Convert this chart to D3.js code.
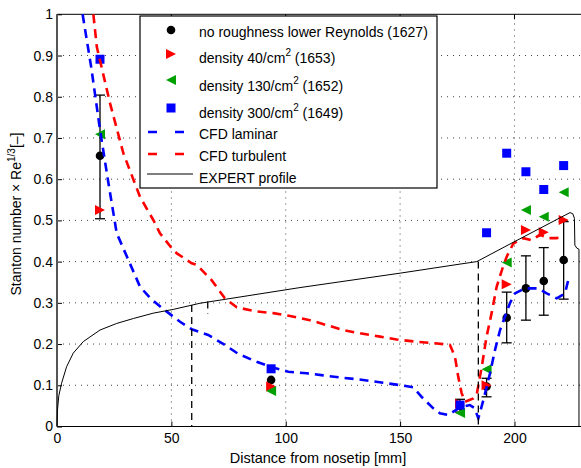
<!DOCTYPE html>
<html lang="en">
<head>
<meta charset="UTF-8">
<title>Stanton number along the nose</title>
<script src="https://d3js.org/d3.v7.min.js"></script>
<style>
  body { margin: 0; background: #fff; }
  svg { display: block; }
  svg text { font-family: "Liberation Sans", "Arimo", Arial, sans-serif; }
  .grid { stroke: #444; stroke-width: 1; stroke-dasharray: 1,5; fill: none; }
  .cfd { fill: none; stroke-width: 2.6; stroke-dasharray: 9,6; }
  .expert { fill: none; stroke: #000; stroke-width: 1; }
  .vdash { stroke: #000; stroke-width: 1.3; stroke-dasharray: 7,5; }
</style>
</head>
<body>
<svg id="chart" width="581" height="468"></svg>
<script>
// measurement stations (mm)
const xMeas = [18.8, 93.6, 176.2, 187.8, 196.6, 205, 212.8, 221.5];
const noRough = [0.657, 0.113, 0.05, 0.097, 0.264, 0.335, 0.353, 0.404];
const errLow  = [0.504, null, 0.035, 0.072, 0.203, 0.258, 0.270, 0.309];
const errHigh = [0.804, null, 0.066, 0.117, 0.326, 0.414, 0.434, 0.497];
const dens40  = [0.525, 0.097, 0.055, 0.10, 0.345, 0.477, 0.471, 0.501];
const dens130 = [0.709, 0.086, 0.033, 0.139, 0.398, 0.525, 0.509, 0.568];
const dens300 = [0.891, 0.14, 0.052, 0.47, 0.663, 0.618, 0.575, 0.633];

// CFD laminar
const lamX = [11.2, 15, 18.8, 22.5, 26.1, 31.2, 36.3, 41, 46.5, 53.8, 58.9, 66.1, 73.4, 79.3, 87.3, 93.9,
  101.1, 109.2, 116.4, 125.2, 133.9, 142.6, 149.2, 155.8, 159.4, 164.5, 167.4, 171.1, 173.3, 176.9, 180.5,
  182.5, 184.2, 186.4, 189.3, 191.5, 193.7, 198, 200.2, 204.6, 210.4, 214.1, 218.5, 222.1, 223.5];
const lamY = [1.0, 0.87, 0.72, 0.59, 0.469, 0.404, 0.339, 0.31, 0.285, 0.254, 0.236, 0.222, 0.198, 0.176, 0.157, 0.144,
  0.133, 0.129, 0.124, 0.118, 0.113, 0.106, 0.101, 0.095, 0.072, 0.044, 0.032, 0.028, 0.036, 0.048, 0.052,
  0.045, 0.02, 0.064, 0.129, 0.186, 0.234, 0.299, 0.323, 0.335, 0.335, 0.323, 0.311, 0.323, 0.355];

// CFD turbulent
const turbX = [15.9, 17.4, 23.2, 29, 36.3, 42.1, 45, 50.8, 52.4, 58.9, 61.1, 67.6, 73.4, 78.6, 87.3, 94.6,
  101.9, 110.6, 117.9, 125.2, 132.5, 141.2, 148.5, 156.5, 165.2, 171.8, 174, 175.4, 176.9, 178.4, 182,
  183.5, 185.7, 187.8, 190, 192.2, 195.1, 196.6, 199.5, 203.9, 207.5, 211.1, 214.8, 218.4, 221.3];
const turbY = [1.0, 0.921, 0.784, 0.663, 0.557, 0.501, 0.469, 0.428, 0.42, 0.396, 0.392, 0.355, 0.311, 0.289, 0.279, 0.275,
  0.268, 0.258, 0.246, 0.234, 0.226, 0.218, 0.211, 0.206, 0.202, 0.198, 0.169, 0.121, 0.081, 0.06, 0.068,
  0.078, 0.145, 0.218, 0.275, 0.339, 0.39, 0.412, 0.444, 0.457, 0.452, 0.465, 0.457, 0.457, 0.46];

// EXPERT profile
const expX = [0, 0.2, 0.8, 2, 4.2, 7.1, 11.5, 18.8, 26.1, 33.4, 42.1, 50.8, 62.5, 106.2, 150, 176.2, 183.5,
  199.5, 224.3, 225.5, 226.2, 226.4, 227.2, 228.2, 228.2];
const expY = [0, 0.04, 0.075, 0.105, 0.145, 0.178, 0.206, 0.234, 0.25, 0.262, 0.275, 0.284, 0.299, 0.337, 0.372, 0.394, 0.4,
  0.447, 0.519, 0.516, 0.505, 0.44, 0.433, 0.43, 0];

// black dashed markers of transition
const vX = [58.9, 65.9, 184.2];
const vTop = [0.295, 0.303, 0.4];
const vBot = [0, 0.273, 0];

const xTicks = [0, 50, 100, 150, 200];
const yTicks = [0, 0.1, 0.2, 0.3, 0.4, 0.5, 0.6, 0.7, 0.8, 0.9, 1];

const legendLabels = ["no roughness lower Reynolds (1627)", "density 40/cm|2| (1653)", "density 130/cm|2| (1652)",
  "density 300/cm|2| (1649)", "CFD laminar", "CFD turbulent", "EXPERT profile"];

const svg = d3.select("#chart");
const x = d3.scaleLinear().domain([0, 230]).range([57, 583.1]);
const y = d3.scaleLinear().domain([0, 1]).range([426.5, 14.3]);
const x0 = x(0), x1 = x(230), y0 = y(0), y1 = y(1);

// grid
svg.append("g").selectAll("line").data(xTicks.slice(1)).join("line")
  .attr("class", "grid").attr("x1", d => x(d)).attr("x2", d => x(d)).attr("y1", y0).attr("y2", y1);
svg.append("g").selectAll("line").data(yTicks.slice(1, -1)).join("line")
  .attr("class", "grid").attr("y1", d => y(d)).attr("y2", d => y(d)).attr("x1", x0).attr("x2", x1);

// axes
const gx = svg.append("g").attr("transform", `translate(0,${y0})`)
  .call(d3.axisBottom(x).tickValues(xTicks).tickSizeInner(-5).tickSizeOuter(0).tickPadding(7));
const gy = svg.append("g").attr("transform", `translate(${x0},0)`)
  .call(d3.axisLeft(y).tickValues(yTicks).tickFormat(d => d3.format("~g")(d)).tickSizeInner(-5).tickSizeOuter(0).tickPadding(4));
[gx, gy].forEach(g => {
  g.attr("font-family", null).attr("font-size", 14);
  g.select(".domain").remove();
  g.selectAll(".tick text").attr("fill", "#000");
  g.selectAll(".tick line").attr("stroke", "#000");
});
// top ticks
svg.append("g").selectAll("line").data(xTicks).join("line")
  .attr("x1", d => x(d)).attr("x2", d => x(d)).attr("y1", y1).attr("y2", y1 + 5).attr("stroke", "#000");

// box
svg.append("line").attr("x1", x0).attr("x2", x1).attr("y1", y0).attr("y2", y0).attr("stroke", "#000");
svg.append("line").attr("x1", x0).attr("x2", x1).attr("y1", y1).attr("y2", y1).attr("stroke", "#000");
svg.append("line").attr("x1", x0).attr("x2", x0).attr("y1", y0).attr("y2", y1).attr("stroke", "#555").attr("stroke-width", 2);

// markers
const tri = (dir) => {
  const s = 5;
  return dir > 0 ? `M${-s},${-s}L${s},0L${-s},${s}Z` : `M${s},${-s}L${-s},0L${s},${s}Z`;
};
const idx = d3.range(xMeas.length);

// error bars + black circles
const eb = svg.append("g").attr("stroke", "#000").attr("stroke-width", 1.3);
idx.filter(i => errLow[i] !== null).forEach(i => {
  const cx = x(xMeas[i]);
  eb.append("line").attr("x1", cx).attr("x2", cx).attr("y1", y(errLow[i])).attr("y2", y(errHigh[i]));
  eb.append("line").attr("x1", cx - 5).attr("x2", cx + 5).attr("y1", y(errLow[i])).attr("y2", y(errLow[i]));
  eb.append("line").attr("x1", cx - 5).attr("x2", cx + 5).attr("y1", y(errHigh[i])).attr("y2", y(errHigh[i]));
});
svg.append("g").selectAll("circle").data(idx).join("circle")
  .attr("cx", i => x(xMeas[i])).attr("cy", i => y(noRough[i])).attr("r", 4.3).attr("fill", "#000");
svg.append("g").selectAll("path").data(idx).join("path")
  .attr("transform", i => `translate(${x(xMeas[i])},${y(dens40[i])})`).attr("d", tri(1)).attr("fill", "#ff0000");
svg.append("g").selectAll("path").data(idx).join("path")
  .attr("transform", i => `translate(${x(xMeas[i])},${y(dens130[i])})`).attr("d", tri(-1)).attr("fill", "#00a000");
svg.append("g").selectAll("rect").data(idx).join("rect")
  .attr("x", i => x(xMeas[i]) - 4.5).attr("y", i => y(dens300[i]) - 4.5).attr("width", 9).attr("height", 9).attr("fill", "#0000ff");

// lines
const line = d3.line().x(d => x(d[0])).y(d => y(d[1]));
svg.append("path").datum(d3.zip(lamX, lamY)).attr("class", "cfd").attr("stroke", "#0000ff").attr("d", line);
svg.append("path").datum(d3.zip(turbX, turbY)).attr("class", "cfd").attr("stroke", "#ff0000").attr("d", line);
svg.append("path").datum(d3.zip(expX, expY)).attr("class", "expert").attr("d", line);

svg.append("g").selectAll("line").data(vX).join("line").attr("class", "vdash")
  .attr("x1", d => x(d)).attr("x2", d => x(d))
  .attr("y1", (d, i) => y(vTop[i])).attr("y2", (d, i) => y(vBot[i]));

// axis labels
svg.append("text").attr("x", 318).attr("y", 463).attr("text-anchor", "middle").attr("font-size", 14.5)
  .text("Distance from nosetip [mm]");
const yl = svg.append("text").attr("transform", "translate(21,214) rotate(-90)")
  .attr("text-anchor", "middle").attr("font-size", 14);
yl.append("tspan").text("Stanton number \u00d7 Re");
yl.append("tspan").attr("font-size", 10).attr("dy", -6).text("1/3");
yl.append("tspan").attr("dy", 6).text("[\u2013]");

// legend
const lg = svg.append("g");
lg.append("rect").attr("x", 140).attr("y", 16).attr("width", 297).attr("height", 172)
  .attr("fill", "#fff").attr("stroke", "#000").attr("stroke-width", 1.2);
const markY = [30, 54, 80, 108, 132, 154, 174];
const baseY = [36.5, 62.5, 90.5, 118, 139, 160.5, 182.5];
lg.append("circle").attr("cx", 171).attr("cy", markY[0]).attr("r", 4.3).attr("fill", "#000");
lg.append("path").attr("transform", `translate(171,${markY[1]})`).attr("d", tri(1)).attr("fill", "#ff0000");
lg.append("path").attr("transform", `translate(171,${markY[2]})`).attr("d", tri(-1)).attr("fill", "#00a000");
lg.append("rect").attr("x", 166.5).attr("y", markY[3] - 4.5).attr("width", 9).attr("height", 9).attr("fill", "#0000ff");
lg.append("line").attr("class", "cfd").attr("stroke", "#0000ff").attr("x1", 148).attr("x2", 193).attr("y1", markY[4]).attr("y2", markY[4]).style("stroke-dasharray", "9,18");
lg.append("line").attr("class", "cfd").attr("stroke", "#ff0000").attr("x1", 148).attr("x2", 193).attr("y1", markY[5]).attr("y2", markY[5]).style("stroke-dasharray", "9,18");
lg.append("line").attr("class", "expert").attr("x1", 147).attr("x2", 193).attr("y1", markY[6]).attr("y2", markY[6]);
legendLabels.forEach((lab, i) => {
  const t = lg.append("text").attr("x", 199).attr("y", baseY[i]).attr("font-size", 14);
  const parts = lab.split("|");
  t.append("tspan").text(parts[0]);
  if (parts.length > 1) {
    t.append("tspan").attr("font-size", 10).attr("dy", -7).text(parts[1]);
    t.append("tspan").attr("dy", 7).text(parts[2]);
  }
});
</script>
</body>
</html>
